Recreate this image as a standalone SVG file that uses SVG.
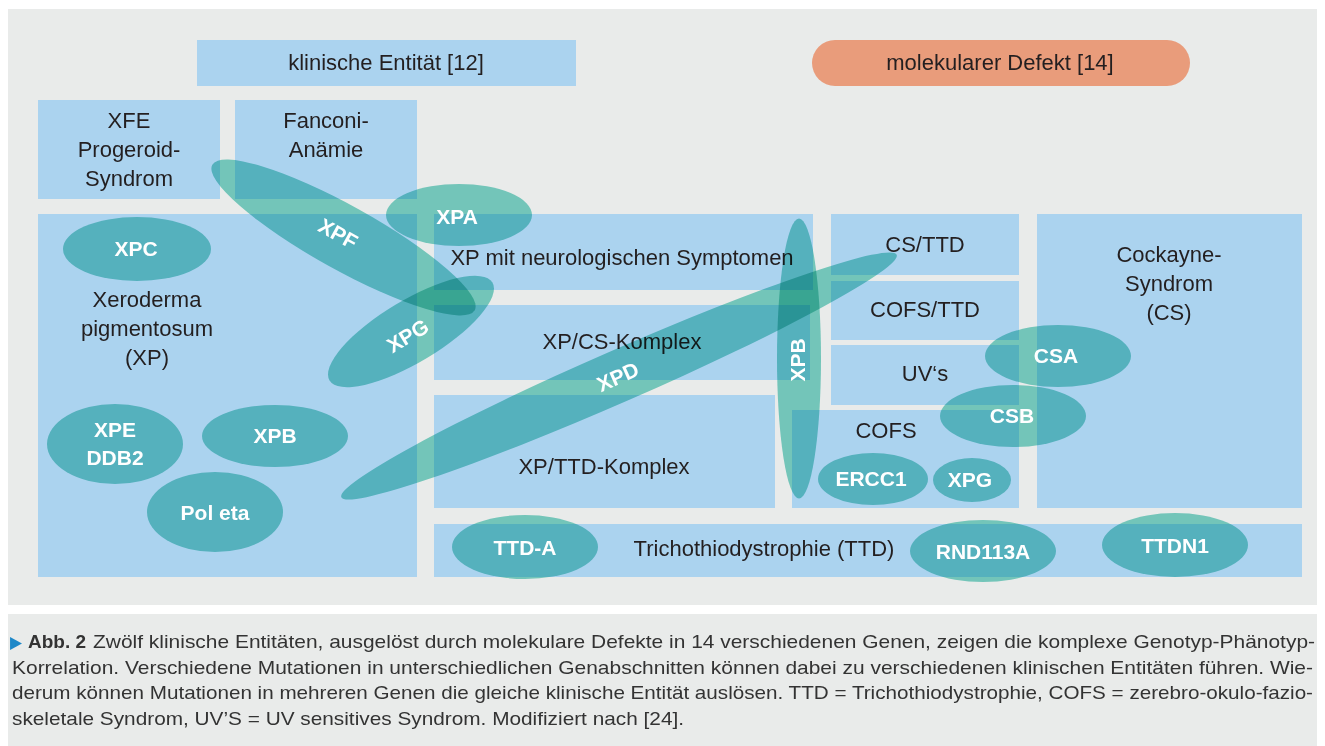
<svg xmlns="http://www.w3.org/2000/svg" width="1325" height="746" viewBox="0 0 1325 746">
<style>
.box{fill:#ABD3EF}
.lbl{font-family:"Liberation Sans",Arial,sans-serif;font-size:22px;fill:#231F20;text-anchor:middle}
.gene{fill:#7ED6CA;mix-blend-mode:multiply}
.gt{font-family:"Liberation Sans",Arial,sans-serif;font-size:21px;font-weight:bold;fill:#FFFFFF;text-anchor:middle}
.cap{font-family:"Liberation Sans",Arial,sans-serif;font-size:19px;fill:#333333}
</style>
<rect x="0" y="0" width="1325" height="746" fill="#FFFFFF"/>
<rect x="8" y="9" width="1309" height="596" fill="#E9EBEA"/>
<rect x="8" y="614" width="1309" height="132" fill="#E9EBEA"/>

<g id="header-klinisch">
<rect class="box" x="197" y="40" width="379" height="46"/>
<text class="lbl" x="386" y="70">klinische Entität [12]</text>
</g>
<g id="header-molekular">
<rect x="812" y="40" width="378" height="46" rx="23" fill="#E99C7B"/>
<text class="lbl" x="1000" y="70">molekularer Defekt [14]</text>
</g>

<g id="box-xfe">
<rect class="box" x="38" y="100" width="182" height="99"/>
<text class="lbl" x="129" y="128">XFE</text>
<text class="lbl" x="129" y="157">Progeroid-</text>
<text class="lbl" x="129" y="186">Syndrom</text>
</g>
<g id="box-fanconi">
<rect class="box" x="235" y="100" width="182" height="99"/>
<text class="lbl" x="326" y="128">Fanconi-</text>
<text class="lbl" x="326" y="157">Anämie</text>
</g>
<g id="box-xp">
<rect class="box" x="38" y="214" width="379" height="363"/>
<text class="lbl" x="147" y="307">Xeroderma</text>
<text class="lbl" x="147" y="336">pigmentosum</text>
<text class="lbl" x="147" y="365">(XP)</text>
</g>
<g id="box-xp-neuro">
<rect class="box" x="434" y="214" width="379" height="76"/>
<text class="lbl" x="622" y="265">XP mit neurologischen Symptomen</text>
</g>
<g id="box-xp-cs">
<rect class="box" x="434" y="305" width="376" height="75"/>
<text class="lbl" x="622" y="349">XP/CS-Komplex</text>
</g>
<g id="box-xp-ttd">
<rect class="box" x="434" y="395" width="341" height="113"/>
<text class="lbl" x="604" y="474">XP/TTD-Komplex</text>
</g>
<g id="box-cs-ttd">
<rect class="box" x="831" y="214" width="188" height="61"/>
<text class="lbl" x="925" y="252">CS/TTD</text>
</g>
<g id="box-cofs-ttd">
<rect class="box" x="831" y="281" width="188" height="59"/>
<text class="lbl" x="925" y="317">COFS/TTD</text>
</g>
<g id="box-uvs">
<rect class="box" x="831" y="345" width="188" height="60"/>
<text class="lbl" x="925" y="381">UV‘s</text>
</g>
<g id="box-cofs">
<rect class="box" x="792" y="410" width="227" height="98"/>
<text class="lbl" x="886" y="438">COFS</text>
</g>
<g id="box-cs">
<rect class="box" x="1037" y="214" width="265" height="294"/>
<text class="lbl" x="1169" y="262">Cockayne-</text>
<text class="lbl" x="1169" y="291">Syndrom</text>
<text class="lbl" x="1169" y="320">(CS)</text>
</g>
<g id="box-ttd">
<rect class="box" x="434" y="524" width="868" height="53"/>
<text class="lbl" x="764" y="556">Trichothiodystrophie (TTD)</text>
</g>

<g id="connectors"></g>

<g id="gene-xpc">
<ellipse class="gene" cx="137" cy="249" rx="74" ry="32"/>
<text class="gt" x="136" y="256">XPC</text>
</g>
<g id="gene-xpe">
<ellipse class="gene" cx="115" cy="444" rx="68" ry="40"/>
<text class="gt" x="115" y="437">XPE</text>
<text class="gt" x="115" y="465">DDB2</text>
</g>
<g id="gene-xpb-left">
<ellipse class="gene" cx="275" cy="436" rx="73" ry="31"/>
<text class="gt" x="275" y="443">XPB</text>
</g>
<g id="gene-poleta">
<ellipse class="gene" cx="215" cy="512" rx="68" ry="40"/>
<text class="gt" x="215" y="520">Pol eta</text>
</g>
<g id="gene-xpf">
<ellipse class="gene" cx="0" cy="0" rx="150" ry="32" transform="translate(343.5,237.5) rotate(29)"/>
<text class="gt" x="0" y="7" transform="translate(338,234) rotate(29)">XPF</text>
</g>
<g id="gene-xpg">
<ellipse class="gene" cx="0" cy="0" rx="95" ry="31" transform="translate(411,331.5) rotate(-31)"/>
<text class="gt" x="0" y="7" transform="translate(408,336) rotate(-31)">XPG</text>
</g>
<g id="gene-xpa">
<ellipse class="gene" cx="459" cy="215" rx="73" ry="31"/>
<text class="gt" x="457" y="224">XPA</text>
</g>
<g id="gene-xpd">
<ellipse class="gene" cx="0" cy="0" rx="303" ry="26" transform="translate(619,376) rotate(-23.6)"/>
<text class="gt" x="0" y="7" transform="translate(618,377) rotate(-24)">XPD</text>
</g>
<g id="gene-xpb-vert">
<ellipse class="gene" cx="799" cy="358.5" rx="22" ry="140"/>
<text class="gt" x="0" y="7" transform="translate(798,360) rotate(-90)">XPB</text>
</g>
<g id="gene-csa">
<ellipse class="gene" cx="1058" cy="356" rx="73" ry="31"/>
<text class="gt" x="1056" y="363">CSA</text>
</g>
<g id="gene-csb">
<ellipse class="gene" cx="1013" cy="416" rx="73" ry="31"/>
<text class="gt" x="1012" y="423">CSB</text>
</g>
<g id="gene-ercc1">
<ellipse class="gene" cx="873" cy="479" rx="55" ry="26"/>
<text class="gt" x="871" y="486">ERCC1</text>
</g>
<g id="gene-xpg-small">
<ellipse class="gene" cx="972" cy="480" rx="39" ry="22"/>
<text class="gt" x="970" y="487">XPG</text>
</g>
<g id="gene-ttda">
<ellipse class="gene" cx="525" cy="547" rx="73" ry="32"/>
<text class="gt" x="525" y="555">TTD-A</text>
</g>
<g id="gene-rnd113a">
<ellipse class="gene" cx="983" cy="551" rx="73" ry="31"/>
<text class="gt" x="983" y="559">RND113A</text>
</g>
<g id="gene-ttdn1">
<ellipse class="gene" cx="1175" cy="545" rx="73" ry="32"/>
<text class="gt" x="1175" y="553">TTDN1</text>
</g>

<g id="caption">
<text x="10" y="648" style="fill:#1E88C8;font-family:'DejaVu Sans',sans-serif;font-size:17px" textLength="12" lengthAdjust="spacingAndGlyphs">▶</text>
<text class="cap" x="28" y="648" font-weight="bold" textLength="58" lengthAdjust="spacingAndGlyphs">Abb. 2</text>
<text class="cap" x="93" y="648" textLength="1222" lengthAdjust="spacingAndGlyphs">Zwölf klinische Entitäten, ausgelöst durch molekulare Defekte in 14 verschiedenen Genen, zeigen die komplexe Genotyp-Phänotyp-</text>
<text class="cap" x="12" y="674" textLength="1301" lengthAdjust="spacingAndGlyphs">Korrelation. Verschiedene Mutationen in unterschiedlichen Genabschnitten können dabei zu verschiedenen klinischen Entitäten führen. Wie-</text>
<text class="cap" x="12" y="699" textLength="1301" lengthAdjust="spacingAndGlyphs">derum können Mutationen in mehreren Genen die gleiche klinische Entität auslösen. TTD = Trichothiodystrophie, COFS = zerebro-okulo-fazio-</text>
<text class="cap" x="12" y="725" textLength="672" lengthAdjust="spacingAndGlyphs">skeletale Syndrom, UV’S = UV sensitives Syndrom. Modifiziert nach [24].</text>
</g>
</svg>
